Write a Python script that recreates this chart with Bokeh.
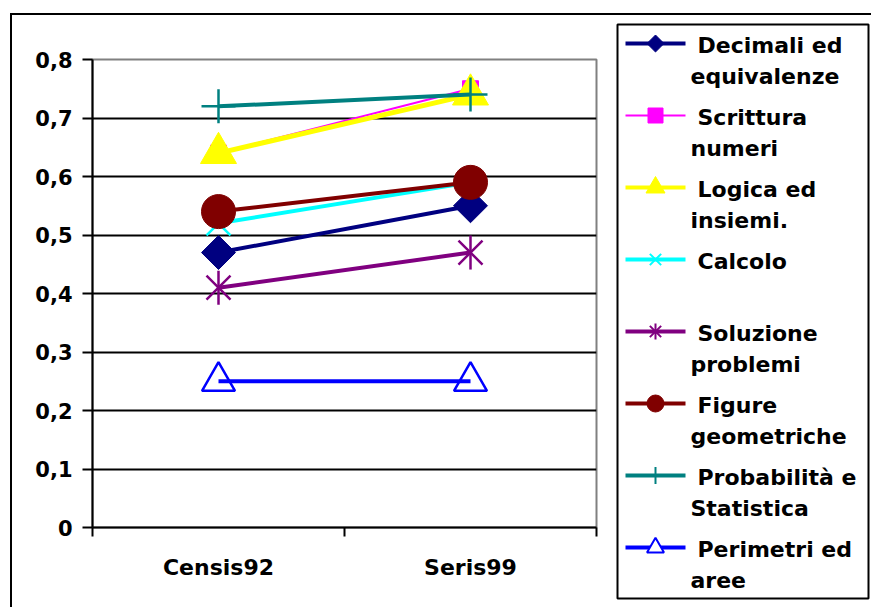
import math

from bokeh.plotting import figure
from bokeh.models import (Range1d, LinearAxis, FixedTicker, Grid)
from bokeh.layouts import row, column
from bokeh.embed import file_html
from bokeh.resources import INLINE
from bokeh.core.properties import value

# ---- data -------------------------------------------------------------
categories = ["Censis92", "Seris99"]

decimali = [0.47, 0.55]
scrittura = [0.64, 0.75]
logica = [0.64, 0.74]
calcolo = [0.52, 0.59]
soluzione = [0.41, 0.47]
figure_geo = [0.54, 0.59]
probabilita = [0.72, 0.74]
perimetri = [0.25, 0.25]

series_values = [decimali, scrittura, logica, calcolo,
                 soluzione, figure_geo, probabilita, perimetri]

legend_lines = [
    ("Decimali ed", "equivalenze"),
    ("Scrittura", "numeri"),
    ("Logica ed", "insiemi."),
    ("Calcolo", ""),
    ("Soluzione", "problemi"),
    ("Figure", "geometriche"),
    ("Probabilità e", "Statistica"),
    ("Perimetri ed", "aree"),
]

y_ticks = [0, 0.1, 0.2, 0.3, 0.4, 0.5, 0.6, 0.7, 0.8]
y_tick_labels = ["0", "0,1", "0,2", "0,3", "0,4", "0,5", "0,6", "0,7", "0,8"]

# category slots: each category sits in the middle of a unit-wide slot
x_pos = [i + 0.5 for i in range(len(categories))]
boundaries = list(range(len(categories) + 1))

# ---- styles -------------------------------------------------------------
# (color, line width, marker parts, marker size, legend marker size, fill)
styles = [
    ("#000080", 4, [("square", math.pi / 4)], 24, 12, True),
    ("#FF00FF", 2, [("square", 0)], 16, 15, True),
    ("#FFFF00", 5, [("triangle", 0)], 36, 19, True),
    ("#00FFFF", 4, [("x", 0)], 34, 16, False),
    ("#800080", 4, [("x", 0), ("dash", math.pi / 2)], 34, 16, False),
    ("#800000", 4, [("circle", 0)], 34, 17, True),
    ("#008080", 4, [("cross", 0)], 34, 17, False),
    ("#0000FF", 4, [("triangle", 0)], 33, 17, False),
]

FONT = "DejaVu Sans"

# outer chart border, painted behind the transparent figure borders
BORDER_CSS = ("linear-gradient(#000, #000) 10px 13px / 2px 100% no-repeat, "
              "linear-gradient(#000, #000) 10px 13px / 100% 2px no-repeat, #fff")
BORDER_CSS_RIGHT = "linear-gradient(#000, #000) 0px 13px / 100% 2px no-repeat, #fff"

# ---- main chart -----------------------------------------------------------
p = figure(width=608, height=607,
           x_range=Range1d(0, len(categories)),
           y_range=Range1d(0, 0.8),
           x_axis_location=None, y_axis_location=None,
           min_border_left=92, min_border_right=12,
           min_border_top=59, min_border_bottom=80,
           toolbar_location=None, output_backend="svg",
           background_fill_color="white", border_fill_color=None,
           outline_line_color="#808080", outline_line_width=2,
           styles={"background": BORDER_CSS})
p.grid.visible = False

p.add_layout(Grid(dimension=1, ticker=FixedTicker(ticks=y_ticks[1:-1]),
                  grid_line_color="black", grid_line_width=2))

yaxis = LinearAxis(ticker=FixedTicker(ticks=y_ticks),
                   major_label_overrides=dict(zip(y_ticks, y_tick_labels)),
                   axis_line_color="black", axis_line_width=2,
                   major_tick_line_color="black", major_tick_line_width=2,
                   major_tick_out=10, major_tick_in=0,
                   minor_tick_line_color=None, major_label_standoff=10,
                   major_label_text_font=FONT,
                   major_label_text_font_style="bold",
                   major_label_text_font_size="21px",
                   major_label_text_color="black")
p.add_layout(yaxis, "left")

# axis line with separator ticks between the categories
sep_axis = LinearAxis(ticker=FixedTicker(ticks=boundaries),
                      major_label_overrides={b: "" for b in boundaries},
                      axis_line_color="black", axis_line_width=2,
                      major_tick_line_color="black", major_tick_line_width=2,
                      major_tick_out=9, major_tick_in=0,
                      minor_tick_line_color=None, major_label_standoff=0,
                      major_label_text_font_size="1px")
p.add_layout(sep_axis, "below")

# category names under the slots
cat_axis = LinearAxis(ticker=FixedTicker(ticks=x_pos),
                      major_label_overrides=dict(zip(x_pos, categories)),
                      axis_line_color=None, major_tick_line_color=None,
                      minor_tick_line_color=None,
                      major_label_standoff=12,
                      major_label_text_font=FONT,
                      major_label_text_font_style="bold",
                      major_label_text_font_size="22px",
                      major_label_text_color="black")
p.add_layout(cat_axis, "below")

for vals, (color, lw, parts, size, _, filled) in zip(series_values, styles):
    p.line(x_pos, vals, line_color=color, line_width=lw)
    for marker, angle in parts:
        p.scatter(x_pos, vals, marker=marker, size=size, angle=angle,
                  line_color=color, line_width=2.5 if not filled else 1,
                  fill_color=color if filled else None)

# ---- legend panel -----------------------------------------------------------
lg = figure(width=263, height=607, x_range=Range1d(0, 263), y_range=Range1d(607, 0),
            x_axis_location=None, y_axis_location=None,
            min_border_left=0, min_border_right=0,
            min_border_top=0, min_border_bottom=0,
            toolbar_location=None, output_backend="svg",
            background_fill_color=None, border_fill_color=None,
            outline_line_color=None,
            styles={"background": BORDER_CSS_RIGHT})
lg.grid.visible = False

lg.quad(left=9, right=260, top=24, bottom=598,
        fill_color="white", line_color="black", line_width=2)

row_y = [43 + 72 * i for i in range(len(legend_lines))]
for gy, (color, lw, parts, _, lsize, filled) in zip(row_y, styles):
    lg.segment(x0=[17], x1=[77], y0=[gy], y1=[gy], line_color=color,
               line_width=min(lw, 4))
    for marker, angle in parts:
        lg.scatter([47], [gy], marker=marker, size=lsize, angle=angle,
                   line_color=color, line_width=2 if not filled else 1,
                   fill_color=color if filled else "white")

lg.text(x=[89] * len(row_y), y=[y + 2 for y in row_y],
        text=[a for a, _ in legend_lines],
        text_font=value(FONT), text_font_style="bold", text_font_size="22px",
        text_baseline="middle", text_align="left", text_color="black")
lg.text(x=[82] * len(row_y), y=[y + 33 for y in row_y],
        text=[b for _, b in legend_lines],
        text_font=value(FONT), text_font_style="bold", text_font_size="22px",
        text_baseline="middle", text_align="left", text_color="black")

layout = row(p, column(lg))

open("out.html", "w").write(file_html(layout, INLINE))
